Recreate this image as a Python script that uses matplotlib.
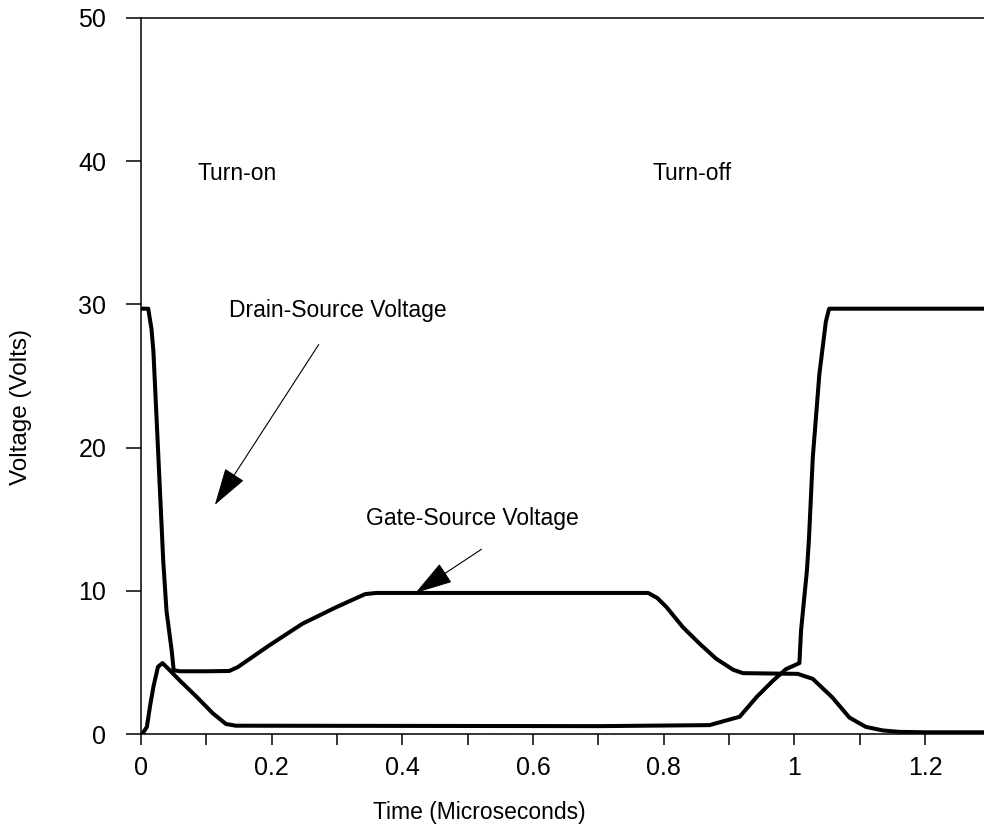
import matplotlib
matplotlib.use('Agg')
import matplotlib.pyplot as plt
from matplotlib.ticker import FixedLocator, FixedFormatter

plt.rcParams['font.family'] = ['Liberation Sans', 'DejaVu Sans']

# Trace that starts at 30 V, falls to the 4.4 V plateau, climbs to 10 V, then decays to 0
traceB_t = [0.0, 0.011, 0.016, 0.019, 0.025, 0.034, 0.039, 0.047, 0.050, 0.060, 0.100,
            0.135, 0.148, 0.196, 0.247, 0.298, 0.343, 0.360, 0.776, 0.790, 0.804,
            0.829, 0.855, 0.880, 0.906, 0.921, 1.005, 1.028, 1.058, 1.084, 1.109,
            1.135, 1.160, 1.200, 1.290]
traceB_v = [29.7, 29.7, 28.3, 26.7, 20.9, 12.1, 8.6, 5.8, 4.45, 4.38, 4.38,
            4.4, 4.67, 6.18, 7.7, 8.84, 9.77, 9.85, 9.85, 9.5, 8.87,
            7.47, 6.3, 5.26, 4.49, 4.25, 4.2, 3.85, 2.55, 1.15, 0.5,
            0.25, 0.15, 0.12, 0.12]

# Trace that starts at 0 V, peaks near 5 V, sits at ~0.55 V, then jumps back to 30 V
traceA_t = [0.002, 0.009, 0.014, 0.019, 0.026, 0.033, 0.044, 0.059, 0.085, 0.110,
            0.130, 0.145, 0.500, 0.702, 0.870, 0.906, 0.916, 0.942, 0.967, 0.987,
            1.0075, 1.010, 1.015, 1.019, 1.022, 1.028, 1.038, 1.048, 1.053, 1.290]
traceA_v = [0.0, 0.5, 2.0, 3.3, 4.7, 4.95, 4.45, 3.75, 2.6, 1.44,
            0.7, 0.58, 0.56, 0.55, 0.62, 1.08, 1.2, 2.58, 3.72, 4.53,
            4.95, 7.2, 9.55, 11.4, 13.5, 19.3, 25.1, 28.8, 29.7, 29.7]

x_major = [0, 0.2, 0.4, 0.6, 0.8, 1.0, 1.2]
x_major_labels = ['0', '0.2', '0.4', '0.6', '0.8', '1', '1.2']
x_minor = [0.1, 0.3, 0.5, 0.7, 0.9, 1.1]
y_ticks = [0, 10, 20, 30, 40, 50]

fig = plt.figure(figsize=(9.84, 8.25), dpi=100)
ax = fig.add_axes([0.1433, 0.1103, 0.8567, 0.8679])

ax.plot(traceB_t, traceB_v, color='black', lw=2.9, solid_joinstyle='round')
ax.plot(traceA_t, traceA_v, color='black', lw=2.9, solid_joinstyle='round')

ax.set_xlim(0, 1.29)
ax.set_ylim(0, 50)

ax.xaxis.set_major_locator(FixedLocator(x_major))
ax.xaxis.set_major_formatter(FixedFormatter(x_major_labels))
ax.xaxis.set_minor_locator(FixedLocator(x_minor))
ax.set_yticks(y_ticks)

ax.tick_params(axis='x', which='both', direction='out', length=8, width=1.1,
               labelsize=18, pad=8)
ax.tick_params(axis='y', direction='out', length=11, width=1.1,
               labelsize=18, pad=14)

for side in ['left', 'bottom', 'top']:
  ax.spines[side].set_linewidth(1.1)
ax.spines['right'].set_visible(False)

ax.set_xlabel('Time (Microseconds)', fontsize=16.5)
ax.xaxis.set_label_coords(0.401, -0.094)
ax.xaxis.label.set_va('top')
ax.set_ylabel('Voltage (Volts)', fontsize=17.5)
ax.yaxis.set_label_coords(-0.129, 0.457)

# annotations
ax.text(0.087, 38.7, 'Turn-on', fontsize=16.5, ha='left', va='baseline')
ax.text(0.783, 38.7, 'Turn-off', fontsize=16.5, ha='left', va='baseline')
ax.text(0.135, 29.1, 'Drain-Source Voltage', fontsize=16.5, ha='left', va='baseline')
ax.text(0.345, 14.6, 'Gate-Source Voltage', fontsize=16.5, ha='left', va='baseline')

arrow_style = dict(arrowstyle='-|>,head_length=1.2,head_width=0.36', mutation_scale=20,
                   lw=0.8, color='black', shrinkA=0, shrinkB=0)
ax.annotate('', xy=(0.113, 16.0), xytext=(0.272, 27.2), arrowprops=arrow_style)
ax.annotate('', xy=(0.42, 9.85), xytext=(0.521, 12.9), arrowprops=arrow_style)

fig.savefig('out.png', dpi=100)
